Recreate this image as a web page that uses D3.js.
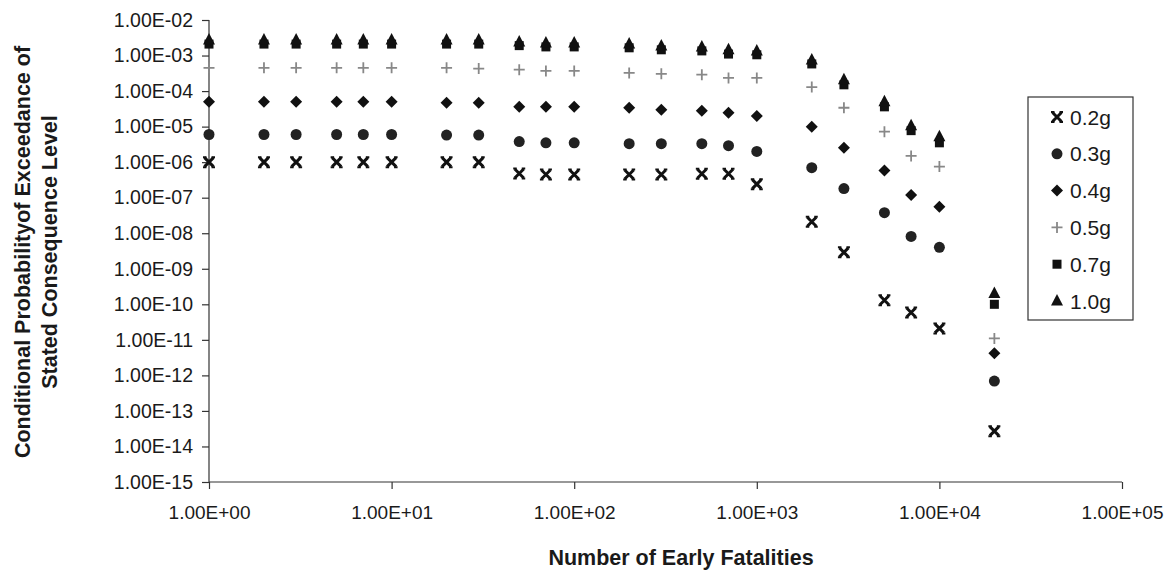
<!DOCTYPE html>
<html>
<head>
<meta charset="utf-8">
<script src="https://cdn.jsdelivr.net/npm/d3@7"></script>
<style>
  body { margin: 0; background: #fff; }
  svg text { font-family: "Liberation Sans", Arial, sans-serif; fill: #1a1a1a; }
</style>
</head>
<body>
<div id="chart"></div>
<script>
'use strict';

// fatalities (x) where every series was evaluated
const fatalities = [1, 2, 3, 5, 7, 10, 20, 30, 50, 70, 100, 200, 300, 500, 700,
                    1000, 2000, 3000, 5000, 7000, 10000, 20000];

// conditional probability of exceedance, one array per PGA level
const p02g = [1.0e-6, 1.0e-6, 1.0e-6, 1.0e-6, 1.0e-6, 1.0e-6, 1.0e-6, 1.0e-6, 4.8e-7, 4.5e-7, 4.5e-7,
              4.5e-7, 4.5e-7, 4.7e-7, 4.7e-7, 2.4e-7, 2.1e-8, 2.9e-9, 1.3e-10, 5.9e-11, 2.1e-11, 2.7e-14];
const p03g = [6.0e-6, 6.0e-6, 6.0e-6, 6.0e-6, 6.0e-6, 6.0e-6, 5.8e-6, 5.8e-6, 3.8e-6, 3.5e-6, 3.5e-6,
              3.3e-6, 3.3e-6, 3.3e-6, 2.9e-6, 2.0e-6, 7.0e-7, 1.8e-7, 3.8e-8, 8.1e-9, 4.0e-9, 6.9e-13];
const p04g = [5.0e-5, 5.0e-5, 5.0e-5, 5.0e-5, 5.0e-5, 5.0e-5, 4.7e-5, 4.7e-5, 3.6e-5, 3.6e-5, 3.6e-5,
              3.4e-5, 3.0e-5, 2.8e-5, 2.45e-5, 2.0e-5, 9.9e-6, 2.55e-6, 5.8e-7, 1.2e-7, 5.6e-8, 4.2e-12];
const p05g = [4.5e-4, 4.5e-4, 4.5e-4, 4.5e-4, 4.5e-4, 4.5e-4, 4.5e-4, 4.3e-4, 4.0e-4, 3.7e-4, 3.7e-4,
              3.25e-4, 3.05e-4, 2.9e-4, 2.35e-4, 2.35e-4, 1.3e-4, 3.4e-5, 7.2e-6, 1.5e-6, 7.5e-7, 1.1e-11];
const p07g = [2.1e-3, 2.1e-3, 2.1e-3, 2.1e-3, 2.1e-3, 2.1e-3, 2.1e-3, 2.1e-3, 1.9e-3, 1.75e-3, 1.75e-3,
              1.65e-3, 1.45e-3, 1.35e-3, 1.1e-3, 1.05e-3, 5.8e-4, 1.5e-4, 3.6e-5, 7.7e-6, 3.5e-6, 1.0e-10];
const p10g = [2.75e-3, 2.75e-3, 2.75e-3, 2.75e-3, 2.75e-3, 2.75e-3, 2.75e-3, 2.75e-3, 2.4e-3, 2.26e-3, 2.26e-3,
              2.1e-3, 1.85e-3, 1.75e-3, 1.45e-3, 1.35e-3, 7.5e-4, 2.1e-4, 5.0e-5, 1.06e-5, 5.2e-6, 2.0e-10];

const seriesNames = ["0.2g", "0.3g", "0.4g", "0.5g", "0.7g", "1.0g"];
const seriesValues = [p02g, p03g, p04g, p05g, p07g, p10g];

// axis ticks
const xTickValues = [1e0, 1e1, 1e2, 1e3, 1e4, 1e5];
const xTickLabels = ["1.00E+00", "1.00E+01", "1.00E+02", "1.00E+03", "1.00E+04", "1.00E+05"];
const yTickValues = [1e-15, 1e-14, 1e-13, 1e-12, 1e-11, 1e-10, 1e-9, 1e-8, 1e-7, 1e-6, 1e-5, 1e-4, 1e-3, 1e-2];
const yTickLabels = ["1.00E-15", "1.00E-14", "1.00E-13", "1.00E-12", "1.00E-11", "1.00E-10", "1.00E-09",
                     "1.00E-08", "1.00E-07", "1.00E-06", "1.00E-05", "1.00E-04", "1.00E-03", "1.00E-02"];

const width = 1173, height = 573;
const plot = { left: 209, right: 1122, top: 20, bottom: 482 };

const svg = d3.select("#chart").append("svg")
    .attr("width", width)
    .attr("height", height);

const x = d3.scaleLog().domain([1, 1e5]).range([plot.left, plot.right]);
const y = d3.scaleLog().domain([1e-15, 1e-2]).range([plot.bottom, plot.top]);

// marker shapes, drawn around (0,0)
const markers = {
    "0.2g": g => {
        g.append("path")
            .attr("d", "M-4.5,-4.5L4.5,4.5M4.5,-4.5L-4.5,4.5")
            .attr("stroke", "#111").attr("stroke-width", 3).attr("fill", "none");
        g.append("path")
            .attr("d", "M-6,-5H-2.5M2.5,-5H6M-6,5H-2.5M2.5,5H6")
            .attr("stroke", "#111").attr("stroke-width", 2).attr("fill", "none");
    },
    "0.3g": g => g.append("circle").attr("r", 5.5).attr("fill", "#222"),
    "0.4g": g => g.append("path").attr("d", "M0,-6L6,0L0,6L-6,0Z").attr("fill", "#111"),
    "0.5g": g => g.append("path").attr("d", "M-5.5,0H5.5M0,-5.5V5.5")
        .attr("stroke", "#888").attr("stroke-width", 1.8).attr("fill", "none"),
    "0.7g": g => g.append("rect").attr("x", -4.5).attr("y", -4.5).attr("width", 9).attr("height", 9).attr("fill", "#111"),
    "1.0g": g => g.append("path").attr("d", "M0,-7L6,4.5L-6,4.5Z").attr("fill", "#111")
};

// axes
const yAxis = svg.append("g")
    .attr("transform", "translate(" + plot.left + ",0)")
    .call(d3.axisLeft(y).tickValues(yTickValues)
        .tickFormat((d, i) => yTickLabels[i]).tickSize(7).tickPadding(9));
const xAxis = svg.append("g")
    .attr("transform", "translate(0," + plot.bottom + ")")
    .call(d3.axisBottom(x).tickValues(xTickValues)
        .tickFormat((d, i) => xTickLabels[i]).tickSize(7).tickPadding(17));

[yAxis, xAxis].forEach(a => {
    a.select(".domain").attr("stroke", "#333").attr("stroke-width", 1.2);
    a.selectAll(".tick line").attr("stroke", "#333").attr("stroke-width", 1.2);
});
// plain axis lines without the end caps d3 adds
yAxis.select(".domain").attr("d", "M0," + plot.top + "V" + plot.bottom);
xAxis.select(".domain").attr("d", "M" + plot.left + ",0H" + plot.right);
yAxis.selectAll(".tick text").attr("font-size", 19.5).attr("fill", "#1a1a1a");
xAxis.selectAll(".tick text").attr("font-size", 19).attr("fill", "#1a1a1a");

// axis titles
svg.append("text")
    .attr("x", 681).attr("y", 565)
    .attr("text-anchor", "middle")
    .attr("font-size", 21.5).attr("font-weight", "bold")
    .text("Number of Early Fatalities");

const yTitle = svg.append("text")
    .attr("transform", "translate(0,252) rotate(-90)")
    .attr("text-anchor", "middle")
    .attr("font-size", 21.5).attr("font-weight", "bold");
yTitle.append("tspan").attr("x", 0).attr("y", 30).text("Conditional Probabilityof Exceedance of");
yTitle.append("tspan").attr("x", 0).attr("y", 57).text("Stated Consequence Level");

// data points
seriesNames.forEach((name, s) => {
    const pts = fatalities.map((f, i) => ({ f: f, p: seriesValues[s][i] }));
    svg.append("g").selectAll("g")
        .data(pts)
        .enter()
        .append("g")
        .attr("transform", d => "translate(" + x(d.f) + "," + y(d.p) + ")")
        .each(function() { markers[name](d3.select(this)); });
});

// legend
const legend = svg.append("g").attr("transform", "translate(1028,97)");
legend.append("rect")
    .attr("width", 105).attr("height", 223)
    .attr("fill", "#fff").attr("stroke", "#333").attr("stroke-width", 1.2);
seriesNames.forEach((name, i) => {
    const row = legend.append("g").attr("transform", "translate(0," + (20 + i * 36.8) + ")");
    markers[name](row.append("g").attr("transform", "translate(29,0)"));
    row.append("text")
        .attr("x", 42).attr("dy", "0.36em")
        .attr("font-size", 21)
        .text(name);
});
</script>
</body>
</html>
